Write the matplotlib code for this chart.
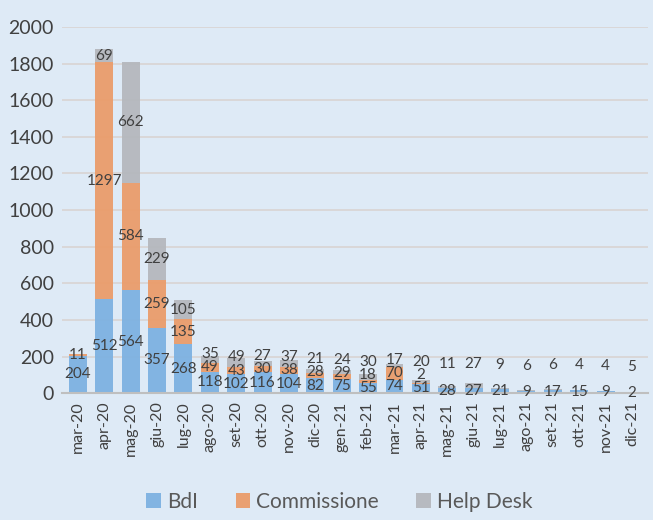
import numpy as np
import matplotlib.pyplot as plt

plt.rcParams['font.family'] = ['Lato', 'DejaVu Sans']

months = ['mar-20', 'apr-20', 'mag-20', 'giu-20', 'lug-20', 'ago-20', 'set-20',
          'ott-20', 'nov-20', 'dic-20', 'gen-21', 'feb-21', 'mar-21', 'apr-21',
          'mag-21', 'giu-21', 'lug-21', 'ago-21', 'set-21', 'ott-21', 'nov-21',
          'dic-21']
bdi = [204, 512, 564, 357, 268, 118, 102, 116, 104, 82, 75, 55, 74, 51,
       28, 27, 21, 9, 17, 15, 9, 2]
commissione = [11, 1297, 584, 259, 135, 49, 43, 30, 38, 28, 29, 18, 70, 2,
               0, 0, 0, 0, 0, 0, 0, 0]
help_desk = [0, 69, 662, 229, 105, 35, 49, 27, 37, 21, 24, 30, 17, 20,
             11, 27, 9, 6, 6, 4, 4, 5]

series = [('BdI', bdi, '#7DB1E1'),
          ('Commissione', commissione, '#EA9C6B'),
          ('Help Desk', help_desk, '#B5B8BD')]

bg = '#DEEAF6'
fig = plt.figure(figsize=(6.53, 5.2), dpi=100, facecolor=bg)
ax = fig.add_axes([0.095, 0.244, 0.897, 0.704], facecolor=bg)

x = np.arange(len(months))
bottom = np.zeros(len(months))
centers = []
for name, vals, col in series:
    vals = np.array(vals, dtype=float)
    ax.bar(x, vals, 0.68, bottom=bottom, color=col, alpha=0.95,
           label=name, zorder=2)
    centers.append(bottom + vals / 2)
    bottom = bottom + vals

# data labels, pushed up when segments are too thin
gap = 72
for i in range(len(months)):
    prev = -1e9
    for k, (name, vals, col) in enumerate(series):
        pos = max(centers[k][i], prev + gap)
        prev = pos
        if vals[i] == 0:
            continue
        ax.text(x[i], pos, str(vals[i]), ha='center', va='center',
                fontsize=11, color='#404040', zorder=3)

ax.set_xlim(-0.6, len(months) - 0.4)
ax.set_ylim(0, 2000)
ax.set_yticks(range(0, 2001, 200))
ax.yaxis.grid(True, color='#D9D4D2', linewidth=1.2, zorder=0)
ax.set_axisbelow(True)
ax.set_xticks(x)
ax.set_xticklabels(months, rotation=90, fontsize=11.5, color='#404040')
ax.tick_params(axis='y', labelsize=14, colors='#404040', length=0, pad=6)
ax.tick_params(axis='x', length=0, pad=6)
for s in ['top', 'right', 'left']:
    ax.spines[s].set_visible(False)
ax.spines['bottom'].set_color('#BFBFBF')
ax.spines['bottom'].set_linewidth(1.5)

fig.legend(loc='lower center', bbox_to_anchor=(0.52, -0.02), ncol=3,
           frameon=False, fontsize=15, handlelength=0.7, handleheight=0.7,
           handletextpad=0.3, columnspacing=1.8, labelcolor='#595959')

fig.savefig('out.png', dpi=100, facecolor=bg)
